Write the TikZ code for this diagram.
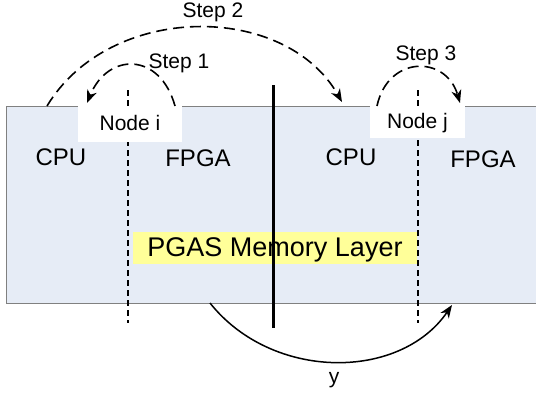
\documentclass[tikz,border=0pt]{standalone}
\usepackage{fontspec}
\setmainfont{Liberation Sans}
\usetikzlibrary{arrows.meta}
\definecolor{layerfill}{HTML}{E6ECF6}
\definecolor{layeredge}{HTML}{808080}
\definecolor{pgasfill}{HTML}{FFFF99}
\tikzset{
  lbl/.style={anchor=base, inner sep=0pt, font=\fontsize{24}{28}\selectfont},
  steplbl/.style={anchor=base, inner sep=0pt, font=\fontsize{21}{25}\selectfont},
  nodebox/.style={fill=white, inner sep=0pt, text height=15.75pt, text depth=3.75pt, font=\fontsize{21}{25}\selectfont},
  divider/.style={line width=1.4pt, dash pattern=on 6pt off 4pt},
  steparrow/.style={line width=1.6pt, dash pattern=on 11pt off 6pt, -{Stealth[length=13pt,width=10pt,inset=4pt]}},
  solidarrow/.style={line width=1.5pt, -{Stealth[length=13pt,width=10pt,inset=4pt]}}
}
\begin{document}
\begin{tikzpicture}[x=1pt,y=-1pt]
\useasboundingbox (0,0) rectangle (536,394);
% layer rectangle
\node[draw=layeredge, fill=layerfill, line width=0.8pt, minimum width=536pt, minimum height=197pt, inner sep=0pt] (layer) at (274.5,204.5) {};
% PGAS box
\node[fill=pgasfill, inner sep=0pt, minimum width=284pt, minimum height=32pt, text height=20pt, text depth=4pt, font=\fontsize{27}{31}\selectfont] (pgas) at (275,248) {PGAS Memory Layer};
% dividers
\coordinate (d1t) at (128,90); \coordinate (d1b) at (128,323);
\coordinate (d2t) at (418,90); \coordinate (d2b) at (418,323);
\coordinate (mt) at (273,85); \coordinate (mb) at (273,328);
\draw[divider] (d1t) -- (d1b);
\draw[divider] (d2t) -- (d2b);
\draw[line width=3pt] (mt) -- (mb);
% node labels
\node[nodebox, minimum width=104pt, minimum height=36pt] (nodei) at (130,124) {Node i};
\node[nodebox, minimum width=95pt, minimum height=32pt] (nodej) at (417.5,122) {Node j};
% CPU / FPGA
\node[lbl] (cpu1) at (61,165) {CPU};
\node[lbl] (fpga1) at (198,166) {FPGA};
\node[lbl] (cpu2) at (351,165) {CPU};
\node[lbl] (fpga2) at (483,167) {FPGA};
% step arcs
\coordinate (s1a) at (175,106); \coordinate (s1b) at (87,103);
\coordinate (s2a) at (47,106);  \coordinate (s2b) at (342,102);
\coordinate (s3a) at (377,106); \coordinate (s3b) at (460,103);
\coordinate (ya) at (210,303);  \coordinate (yb) at (452,305);
\draw[steparrow] (s1a) .. controls (160,52) and (108,52) .. (s1b);
\draw[steparrow] (s2a) .. controls (110,2) and (285,2) .. (s2b);
\draw[steparrow] (s3a) .. controls (388,55) and (446,55) .. (s3b);
\draw[solidarrow] (ya) .. controls (272,381) and (400,381) .. (yb);
\node[steplbl] (st1) at (179,68) {Step 1};
\node[steplbl] (st2) at (213,17) {Step 2};
\node[steplbl] (st3) at (426,60) {Step 3};
\node[steplbl] (ylbl) at (334,383) {y};
\end{tikzpicture}
\end{document}
